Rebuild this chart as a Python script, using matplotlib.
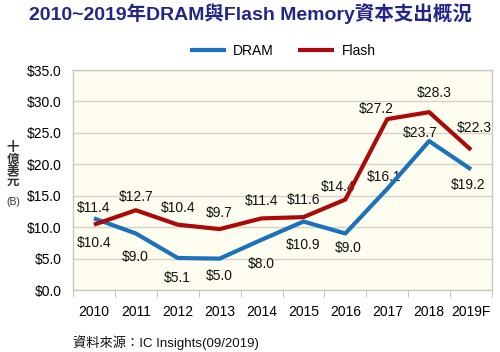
import matplotlib.pyplot as plt
import numpy as np

plt.rcParams['font.family'] = ['Liberation Sans', 'Noto Sans CJK TC', 'DejaVu Sans']

years = ['2010', '2011', '2012', '2013', '2014', '2015', '2016', '2017', '2018', '2019F']
dram = [11.4, 9.0, 5.1, 5.0, 8.0, 10.9, 9.0, 16.1, 23.7, 19.2]
flash = [10.4, 12.7, 10.4, 9.7, 11.4, 11.6, 14.4, 27.2, 28.3, 22.3]

# label offsets in pixels (dx, dy), taken from the reference layout
dram_off = [(0, 10), (-1, -24), (0, -20), (0, -17), (0, -24), (0, -23), (3, -15), (-3, 12), (-9, 8), (-3, -16)]
flash_off = [(0, -18), (0, 13), (0, 17), (0, 16), (0, 17), (0, 17), (-7, 13), (-11, 10), (5, 19), (3, 22)]

blue = '#1a72bb'
red = '#aa0a0a'

fig = plt.figure(figsize=[5, 3.52], dpi=100)
ax = fig.add_axes([0.146, 0.176, 0.838, 0.625])
ax.set_facecolor('#fffdf0')

x = np.arange(len(years))
ax.plot(x, dram, color=blue, lw=3.0, zorder=4, solid_capstyle='butt', label='DRAM')
ax.plot(x, flash, color=red, lw=3.0, zorder=4, solid_capstyle='butt', label='Flash')

for xs, vals, offs in [(x, dram, dram_off), (x, flash, flash_off)]:
    for xi, v, (dx, dy) in zip(xs, vals, offs):
        ax.annotate(f'${v:.1f}', (xi, v), xytext=(dx * 0.72, dy * 0.72), textcoords='offset points',
                    ha='center', va='center', fontsize=10, color='#111111', zorder=3)

ax.set_xlim(-0.5, len(years) - 0.5)
ax.set_ylim(0, 35)
ax.set_yticks(np.arange(0, 35.1, 5))
ax.set_yticklabels([f'${v:.1f}' for v in np.arange(0, 35.1, 5)])
ax.set_xticks(x)
ax.set_xticklabels(years)
ax.set_xticks(np.arange(-0.5, len(years)), minor=True)
ax.tick_params(axis='x', which='major', length=0, pad=11, labelsize=10)
ax.tick_params(axis='x', which='minor', length=5, color='#b8b8b0')
ax.tick_params(axis='y', length=0, pad=8, labelsize=10)
ax.grid(axis='y', color='#d2d2c8', lw=1)
ax.set_axisbelow(True)
for s in ax.spines.values():
    s.set_color('#c8c8c0')
    s.set_linewidth(1)

fig.text(0.5, 0.962, '2010~2019年DRAM與Flash Memory資本支出概況', ha='center', va='center',
         fontsize=14, fontweight='bold', color='#22268a')
ax.legend(loc='center', bbox_to_anchor=(0.5, 1.086), ncol=2, frameon=False, fontsize=10,
          handlelength=2.6, columnspacing=1.8, handletextpad=0.5)

fig.text(0.026, 0.531, '十\n億\n美\n元', ha='center', va='center', fontsize=9,
         linespacing=0.9, fontweight='bold', color='#333333')
fig.text(0.026, 0.426, '(B)', ha='center', va='center', fontsize=7.5, color='#333333')
fig.text(0.146, 0.028, '資料來源：IC Insights(09/2019)', ha='left', va='center', fontsize=9.5, color='#111111')

fig.savefig('out.png', dpi=100)
